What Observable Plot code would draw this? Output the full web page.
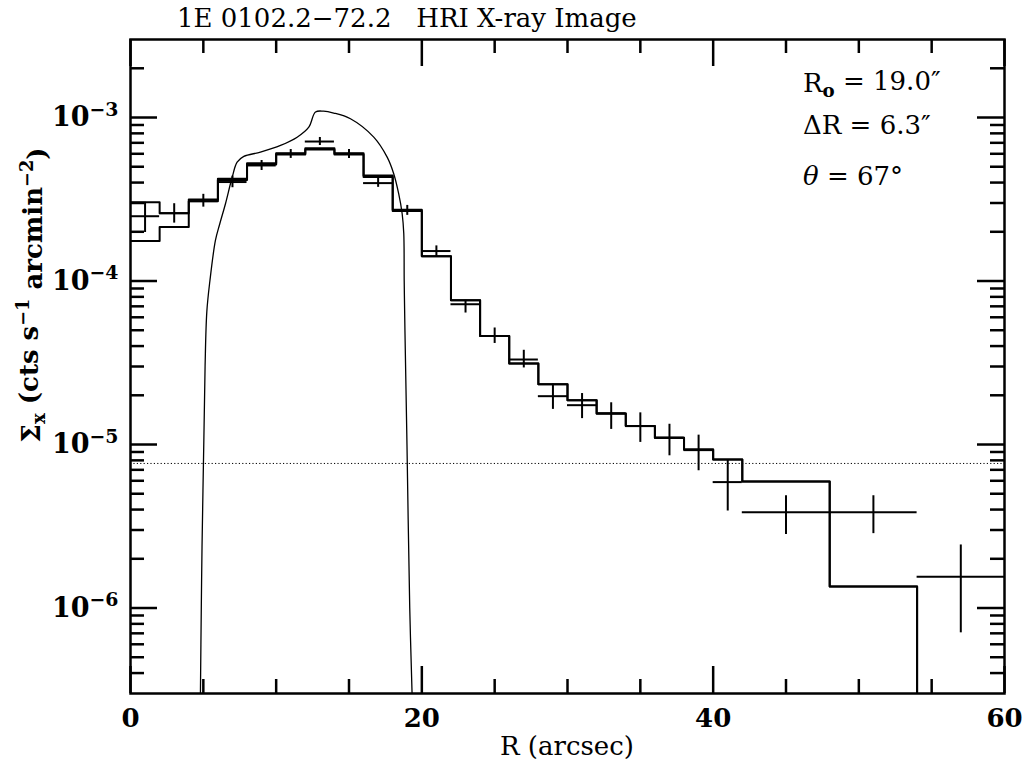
<!DOCTYPE html>
<html><head><meta charset="utf-8">
<script src="https://cdn.jsdelivr.net/npm/d3@7"></script>
<script src="https://cdn.jsdelivr.net/npm/@observablehq/plot@0.6"></script>
<style>body{margin:0;background:#fff}</style>
</head><body><div id="chart"></div>
<script>
// ---- data ----
const binLo = [0,2,4,6,8,10,12,14,16,18,20,22,24,26,28,30,32,34,36,38,40,42,48,54];
const binHi = [2,4,6,8,10,12,14,16,18,20,22,24,26,28,30,32,34,36,38,40,42,48,54,60];
const obsValue = [2.49e-4,2.60e-4,3.08e-4,4.03e-4,5.09e-4,6.00e-4,7.13e-4,6.00e-4,3.97e-4,2.70e-4,1.525e-4,7.21e-5,4.61e-5,3.31e-5,1.975e-5,1.74e-5,1.55e-5,1.296e-5,1.10e-5,9.24e-6,5.89e-6,3.85e-6,3.85e-6,1.555e-6];
const obsLow   = [1.98e-4,2.26e-4,2.83e-4,3.72e-4,4.74e-4,5.62e-4,6.74e-4,5.62e-4,3.74e-4,2.52e-4,1.415e-4,6.37e-5,4.15e-5,2.94e-5,1.64e-5,1.44e-5,1.237e-5,1.03e-5,8.53e-6,6.91e-6,3.92e-6,2.82e-6,2.85e-6,7.05e-7];
const obsHigh  = [3.03e-4,2.97e-4,3.39e-4,4.38e-4,5.46e-4,6.37e-4,7.55e-4,6.37e-4,4.24e-4,2.90e-4,1.64e-4,7.62e-5,5.16e-5,3.77e-5,2.34e-5,2.05e-5,1.80e-5,1.562e-5,1.33e-5,1.141e-5,8.03e-6,4.86e-6,4.86e-6,2.43e-6];
const modelThick = [3.03e-4,2.60e-4,3.15e-4,4.22e-4,5.26e-4,6.05e-4,6.49e-4,6.05e-4,4.42e-4,2.73e-4,1.416e-4,7.62e-5,4.61e-5,3.13e-5,2.34e-5,1.867e-5,1.55e-5,1.296e-5,1.10e-5,9.33e-6,8.11e-6,5.93e-6,1.352e-6,1e-9];
const modelThin  = [1.755e-4,2.14e-4,3.08e-4,4.15e-4,5.16e-4,5.94e-4,6.38e-4,5.94e-4,4.33e-4,2.68e-4,1.416e-4,7.62e-5,4.61e-5,3.13e-5,2.34e-5,1.867e-5,1.55e-5,1.296e-5,1.10e-5,9.33e-6,8.11e-6,5.93e-6,1.352e-6,1e-9];
const shellR     = [4.80,4.86,4.91,5.03,5.12,5.24,5.45,5.83,6.13,6.52,6.98,7.32,7.78,8.92,10.3,11.44,12.24,12.70,13.25,13.95,15.10,16.70,17.62,18.07,18.41,18.65,18.76,18.79,18.84,18.98,19.17,19.33];
const shellSigma = [3.0e-7,1e-6,2.36e-6,1e-5,3e-5,6.5e-5,1e-4,1.77e-4,2.24e-4,2.97e-4,4.31e-4,5.33e-4,5.78e-4,6.14e-4,6.75e-4,7.58e-4,8.73e-4,1.08e-3,1.093e-3,1.065e-3,9.82e-4,7.58e-4,5.72e-4,4.53e-4,3.42e-4,2.58e-4,1.95e-4,1e-4,5e-5,1e-5,1e-6,3.0e-7];
const backgroundLevel = 7.66e-6;
const xLabelTicks = [0,20,40,60];
const xMinorTicks = [5,10,15,25,30,35,45,50,55];
const yMajorTicks = [1e-6,1e-5,1e-4,1e-3];
const yMinorTicks = [4e-7,5e-7,6e-7,7e-7,8e-7,9e-7,2e-6,3e-6,4e-6,5e-6,6e-6,7e-6,8e-6,9e-6,2e-5,3e-5,4e-5,5e-5,6e-5,7e-5,8e-5,9e-5,2e-4,3e-4,4e-4,5e-4,6e-4,7e-4,8e-4,9e-4,2e-3];

// ---- layout ----
const W = 1027, H = 765, mL = 130, mR = 23, mT = 39, mB = 72;
const innerW = W - mL - mR, innerH = H - mT - mB;
const bigTick = 27, smallTick = 14;

function steps(lo, hi, v) {
  const pts = lo.map((x, i) => ({x, y: v[i]}));
  pts.push({x: hi[hi.length - 1], y: v[v.length - 1]});
  return pts;
}
const idx = d3.range(binLo.length);
const centers = idx.map(i => (binLo[i] + binHi[i]) / 2);
const shell = shellR.map((r, i) => ({r, s: shellSigma[i]}));

const tickStyle = {stroke: "black", strokeWidth: 2.5};
const plot = Plot.plot({
  width: W, height: H,
  marginLeft: mL, marginRight: mR, marginTop: mT, marginBottom: mB,
  style: {fontFamily: "'DejaVu Serif', serif", background: "white"},
  x: {domain: [0, 60]},
  y: {type: "log", domain: [3e-7, 3e-3]},
  marks: [
    Plot.ruleY([backgroundLevel], {stroke: "black", strokeWidth: 1, strokeDasharray: "1.2,2.2"}),
    Plot.line(shell, {x: "r", y: "s", curve: "catmull-rom", stroke: "black", strokeWidth: 1.3, clip: true}),
    Plot.line(steps(binLo, binHi, modelThin), {x: "x", y: "y", curve: "step-after", stroke: "black", strokeWidth: 2, clip: true}),
    Plot.line(steps(binLo, binHi, modelThick), {x: "x", y: "y", curve: "step-after", stroke: "black", strokeWidth: 2, clip: true}),
    Plot.ruleY(idx, {y: i => obsValue[i], x1: i => binLo[i], x2: i => binHi[i], stroke: "black", strokeWidth: 2}),
    Plot.ruleX(idx, {x: i => centers[i], y1: i => obsLow[i], y2: i => obsHigh[i], stroke: "black", strokeWidth: 2, clip: true}),
    // inward ticks on all four sides
    Plot.ruleX(xLabelTicks, {x: d => d, insetTop: innerH - bigTick, ...tickStyle}),
    Plot.ruleX(xMinorTicks, {x: d => d, insetTop: innerH - smallTick, ...tickStyle}),
    Plot.ruleX(xLabelTicks, {x: d => d, insetBottom: innerH - bigTick, ...tickStyle}),
    Plot.ruleX(xMinorTicks, {x: d => d, insetBottom: innerH - smallTick, ...tickStyle}),
    Plot.ruleY(yMajorTicks, {y: d => d, insetRight: innerW - bigTick, ...tickStyle}),
    Plot.ruleY(yMinorTicks, {y: d => d, insetRight: innerW - smallTick, ...tickStyle}),
    Plot.ruleY(yMajorTicks, {y: d => d, insetLeft: innerW - bigTick, ...tickStyle}),
    Plot.ruleY(yMinorTicks, {y: d => d, insetLeft: innerW - smallTick, ...tickStyle}),
    Plot.axisX(xLabelTicks, {tickSize: 0, tickPadding: 15, fontSize: 26, fontWeight: "bold", label: null, tickFormat: d => String(d)}),
    Plot.axisY(yMajorTicks, {tickSize: 0, tickPadding: 12, fontSize: 27, fontWeight: "bold", label: null, tickFormat: d => String(Math.round(Math.log10(d)))}),
    Plot.frame({stroke: "black", strokeWidth: 2.5})
  ]
});

const svg = d3.select(plot);
// superscript exponents on y tick labels
svg.selectAll('g[aria-label="y-axis tick label"] text').each(function () {
  const t = d3.select(this);
  const e = t.text().replace("-", "\u2212");
  t.text(null);
  t.append("tspan").text("10");
  t.append("tspan").attr("dy", "-0.55em").attr("font-size", "0.7em").text(e);
});

function addText(x, y, parts, opts = {}) {
  const t = svg.append("text").attr("x", x).attr("y", y)
    .attr("font-family", "'DejaVu Serif', serif").attr("font-size", opts.size || 26)
    .attr("font-weight", opts.weight || "normal").attr("fill", "black")
    .attr("text-anchor", opts.anchor || "start").style("white-space", "pre");
  if (opts.transform) t.attr("transform", opts.transform).attr("x", 0).attr("y", 0);
  for (const p of parts) {
    const s = t.append("tspan").text(p.t);
    if (p.dy) s.attr("dy", p.dy);
    if (p.size) s.attr("font-size", p.size);
    if (p.style) s.attr("font-style", p.style);
    if (p.weight) s.attr("font-weight", p.weight);
  }
  return t;
}
// title
addText(177, 27, [{t: "1E 0102.2\u221272.2   HRI X-ray Image"}], {size: 26});
// x label
addText(mL + innerW / 2, 755, [{t: "R (arcsec)"}], {size: 26, anchor: "middle"});
// y label
addText(0, 0, [
  {t: "\u03A3"}, {t: "x", dy: "0.3em", size: "0.7em"}, {t: " (cts s", dy: "-0.3em"},
  {t: "\u22121", dy: "-0.5em", size: "0.68em"}, {t: " arcmin", dy: "0.5em"},
  {t: "\u22122", dy: "-0.5em", size: "0.68em"}, {t: ")", dy: "0.5em"}
], {size: 26, weight: "bold", anchor: "middle", transform: "translate(40,295) rotate(-90)"});
// annotations
addText(803, 92, [{t: "R"}, {t: "o", dy: "0.25em", size: "0.7em", weight: "bold"}, {t: " = 19.0\u2033", dy: "-0.25em"}], {size: 26});
addText(803, 134, [{t: "\u0394R = 6.3\u2033"}], {size: 26});
addText(803, 185, [{t: "\u03B8", style: "italic"}, {t: " = 67\u00B0"}], {size: 26});

document.getElementById("chart").appendChild(plot);
</script>
</body></html>
